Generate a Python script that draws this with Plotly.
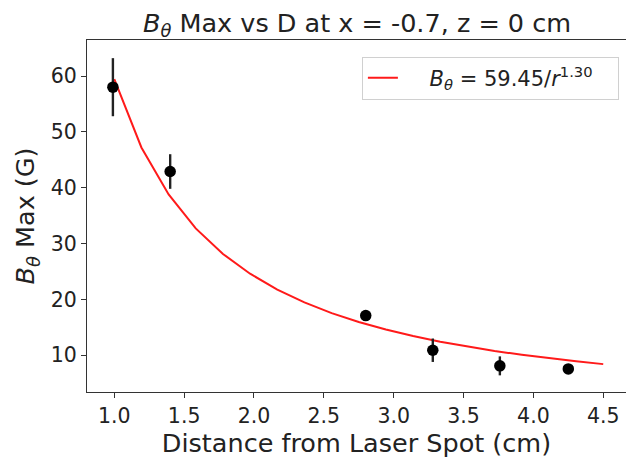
import plotly.graph_objects as go

dist_cm = [0.99, 1.40, 2.80, 3.28, 3.76, 4.25]
b_max = [58.0, 42.9, 17.1, 10.9, 8.1, 7.55]
b_err = [5.2, 3.1, 0.4, 2.1, 1.7, 0.5]

# Fit curve B = 59.45 / r^1.30, sampled points (values listed)
fit_r = [1.000, 1.194, 1.389, 1.583, 1.778, 1.972, 2.167, 2.361, 2.556, 2.750,
         2.944, 3.139, 3.333, 3.528, 3.722, 3.917, 4.111, 4.306, 4.500]
fit_b = [59.45, 47.21, 38.79, 32.72, 28.14, 24.60, 21.76, 19.46, 17.55, 15.96,
         14.61, 13.44, 12.43, 11.55, 10.77, 10.08, 9.46, 8.91, 8.41]

x_ticks = [1.0, 1.5, 2.0, 2.5, 3.0, 3.5, 4.0, 4.5]
x_tick_text = ["1.0", "1.5", "2.0", "2.5", "3.0", "3.5", "4.0", "4.5"]
y_ticks = [10, 20, 30, 40, 50, 60]

FONT = "DejaVu Sans"
NB = "\u00a0"

fig = go.Figure()
fig.add_trace(go.Scatter(
    x=fit_r, y=fit_b, mode="lines",
    line=dict(color="#ff1a1a", width=2),
    name=NB * 4 + "<i>B</i><sub><i>θ</i></sub> = 59.45/<i>r</i><sup>1.30</sup>" + NB * 3,
    showlegend=True,
))
fig.add_trace(go.Scatter(
    x=dist_cm, y=b_max, mode="markers",
    marker=dict(color="black", size=11.5),
    error_y=dict(type="data", array=b_err, visible=True, color="#222222",
                 thickness=2.4, width=0),
    showlegend=False,
))

fig.update_layout(
    width=626, height=460,
    margin=dict(l=87, r=0, t=40, b=68, autoexpand=False),
    paper_bgcolor="white", plot_bgcolor="white",
    font=dict(family=FONT, color="#222222", size=20),
    title=dict(
        text="<i>B</i><sub><i>θ</i></sub> Max vs D at x = -0.7, z = 0 cm",
        x=(357 / 626), xanchor="center", xref="container",
        y=1 - 23 / 460, yanchor="middle", yref="container",
        font=dict(size=25.5, family=FONT, color="#222222"),
    ),
    legend=dict(
        x=0.510, y=0.953, xanchor="left", yanchor="top",
        bgcolor="rgba(255,255,255,0.8)", bordercolor="#d0d0d0", borderwidth=1,
        font=dict(size=21, family=FONT, color="#222222"),
    ),
)
fig.update_xaxes(
    range=[0.8046, 4.663], automargin=False,
    tickvals=x_ticks, ticktext=x_tick_text,
    ticks="outside", ticklen=5, tickwidth=1.2, tickcolor="#333333",
    showline=True, linecolor="#333333", linewidth=1.2, mirror=True,
    showgrid=False, zeroline=False,
    tickfont=dict(size=20.5),
    title=dict(text="Distance from Laser Spot (cm)", font=dict(size=25.5), standoff=6),
)
fig.update_yaxes(
    range=[3.42, 66.45], automargin=False,
    tickvals=y_ticks,
    ticks="outside", ticklen=5, tickwidth=1.2, tickcolor="#333333",
    showline=True, linecolor="#333333", linewidth=1.2, mirror=False,
    showgrid=False, zeroline=False,
    tickfont=dict(size=20.5),
    title=dict(text="<i>B</i><sub><i>θ</i></sub> Max (G)", font=dict(size=25.5), standoff=8),
)

fig.write_html("out.html", config={"displayModeBar": False},
               post_script="document.body.style.margin='0';")
